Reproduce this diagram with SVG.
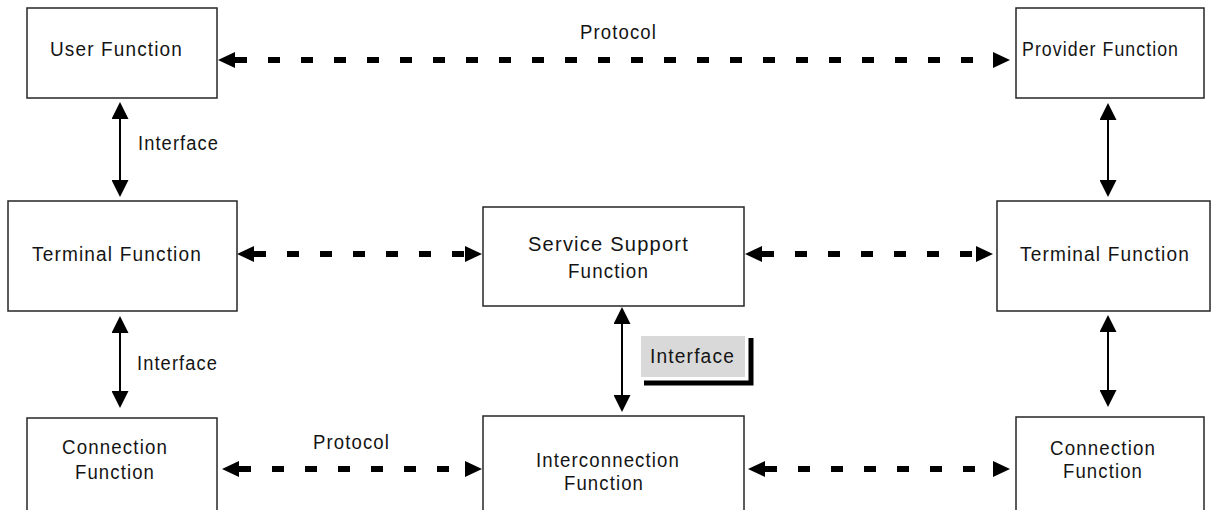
<svg xmlns="http://www.w3.org/2000/svg" width="1213" height="510" viewBox="0 0 1213 510">
  <style>
    .box { fill: #ffffff; stroke: #262626; stroke-width: 1.5; }
    .lbl { font-family: "Liberation Sans", Arial, sans-serif; font-size: 20px; letter-spacing: 1.2px; fill: #141414; }
    .dash { fill: none; stroke: #000; stroke-width: 6; stroke-dasharray: 12 21; marker-start: url(#head); marker-end: url(#head); }
    .solid { fill: none; stroke: #000; stroke-width: 2; marker-start: url(#tip); marker-end: url(#tip); }
  </style>
  <defs>
    <marker id="head" viewBox="0 0 17 16" refX="0" refY="8" markerWidth="17" markerHeight="16" markerUnits="userSpaceOnUse" orient="auto-start-reverse">
      <path d="M0,0 L17,8 L0,16 Z" fill="#000"/>
    </marker>
    <marker id="tip" viewBox="0 0 17 17" refX="0" refY="8.5" markerWidth="17" markerHeight="17" markerUnits="userSpaceOnUse" orient="auto-start-reverse">
      <path d="M0,0 L17,8.5 L0,17 Z" fill="#000"/>
    </marker>
  </defs>

  <!-- connectors -->
  <g id="connectors">
    <line class="dash" x1="235" y1="60" x2="993" y2="60"/>
    <line class="dash" x1="254" y1="254" x2="465" y2="254"/>
    <line class="dash" x1="762" y1="254" x2="976" y2="254"/>
    <line class="dash" x1="239" y1="469" x2="465" y2="469"/>
    <line class="dash" x1="765" y1="469" x2="993" y2="469"/>

    <line class="solid" x1="120" y1="119" x2="120" y2="180"/>
    <line class="solid" x1="120" y1="333" x2="120" y2="391"/>
    <line class="solid" x1="1108" y1="120" x2="1108" y2="180"/>
    <line class="solid" x1="1108" y1="332" x2="1108" y2="390"/>
    <line class="solid" x1="622" y1="324" x2="622" y2="395"/>

    <text class="lbl" x="580" y="39" textLength="77" lengthAdjust="spacingAndGlyphs">Protocol</text>
    <text class="lbl" x="138" y="150" textLength="81" lengthAdjust="spacingAndGlyphs">Interface</text>
    <text class="lbl" x="137" y="370" textLength="81" lengthAdjust="spacingAndGlyphs">Interface</text>
    <text class="lbl" x="313" y="449" textLength="77" lengthAdjust="spacingAndGlyphs">Protocol</text>

    <g id="interface-tag">
      <rect x="641" y="336" width="104" height="41" fill="#d9d9d9"/>
      <polyline points="644,383 751,383 751,338" fill="none" stroke="#000" stroke-width="5"/>
      <text class="lbl" x="650" y="363" textLength="85" lengthAdjust="spacingAndGlyphs">Interface</text>
    </g>
  </g>

  <!-- nodes -->
  <g id="user-function">
    <rect class="box" x="27" y="8" width="190" height="90"/>
    <text class="lbl" x="50" y="56" textLength="133" lengthAdjust="spacingAndGlyphs">User Function</text>
  </g>
  <g id="provider-function">
    <rect class="box" x="1016" y="8" width="188" height="90"/>
    <text class="lbl" x="1022" y="56" textLength="157" lengthAdjust="spacingAndGlyphs">Provider Function</text>
  </g>
  <g id="terminal-function-left">
    <rect class="box" x="8" y="201" width="229" height="110"/>
    <text class="lbl" x="32" y="261" textLength="170" lengthAdjust="spacingAndGlyphs">Terminal Function</text>
  </g>
  <g id="service-support-function">
    <rect class="box" x="483" y="207" width="261" height="99"/>
    <text class="lbl" x="528" y="251" textLength="161" lengthAdjust="spacingAndGlyphs">Service Support</text>
    <text class="lbl" x="568" y="278" textLength="81" lengthAdjust="spacingAndGlyphs">Function</text>
  </g>
  <g id="terminal-function-right">
    <rect class="box" x="997" y="201" width="213" height="110"/>
    <text class="lbl" x="1020" y="261" textLength="170" lengthAdjust="spacingAndGlyphs">Terminal Function</text>
  </g>
  <g id="connection-function-left">
    <rect class="box" x="27" y="418" width="190" height="110"/>
    <text class="lbl" x="62" y="454" textLength="106" lengthAdjust="spacingAndGlyphs">Connection</text>
    <text class="lbl" x="75" y="479" textLength="80" lengthAdjust="spacingAndGlyphs">Function</text>
  </g>
  <g id="interconnection-function">
    <rect class="box" x="483" y="416" width="261" height="110"/>
    <text class="lbl" x="536" y="467" textLength="144" lengthAdjust="spacingAndGlyphs">Interconnection</text>
    <text class="lbl" x="564" y="490" textLength="80" lengthAdjust="spacingAndGlyphs">Function</text>
  </g>
  <g id="connection-function-right">
    <rect class="box" x="1016" y="417" width="188" height="110"/>
    <text class="lbl" x="1050" y="455" textLength="106" lengthAdjust="spacingAndGlyphs">Connection</text>
    <text class="lbl" x="1063" y="478" textLength="80" lengthAdjust="spacingAndGlyphs">Function</text>
  </g>
</svg>
